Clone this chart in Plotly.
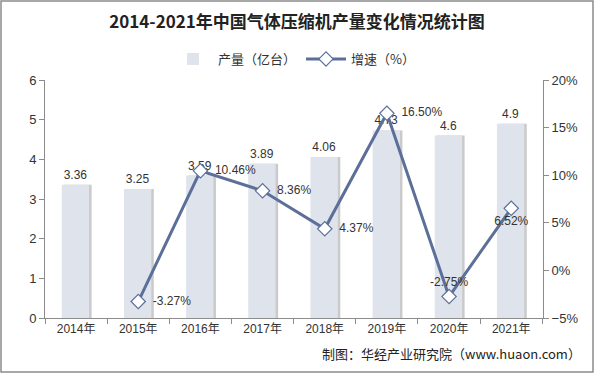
import plotly.graph_objects as go

years = ["2014年", "2015年", "2016年", "2017年", "2018年", "2019年", "2020年", "2021年"]
output = [3.36, 3.25, 3.59, 3.89, 4.06, 4.73, 4.6, 4.9]
growth_years = ["2015年", "2016年", "2017年", "2018年", "2019年", "2020年", "2021年"]
growth = [-3.27, 10.46, 8.36, 4.37, 16.50, -2.75, 6.52]
growth_labels = ["  -3.27%", "  10.46%", "  8.36%", "  4.37%", "  16.50%", "-2.75%", "6.52%"]
growth_pos = ["middle right", "middle right", "middle right", "middle right",
              "middle right", "top center", "bottom center"]

BAR = "#dfe3ec"
LINE = "#5b6f99"
FONT = "Liberation Sans, Arial, Noto Sans CJK SC, sans-serif"
CJK = "Noto Sans CJK SC, sans-serif"

fig = go.Figure()
fig.add_trace(go.Bar(x=years, y=output, width=0.44, offset=-0.19,
                     marker=dict(color="rgba(150,150,150,0.5)", line=dict(width=0)),
                     showlegend=False, hoverinfo="skip"))
fig.add_trace(go.Bar(x=years, y=output, name="产量（亿台）", width=0.44, offset=-0.23,
                     marker=dict(color=BAR, line=dict(width=0)),
                     text=[str(v) for v in output], textposition="outside",
                     textfont=dict(size=12, color="#333333", family=FONT),
                     cliponaxis=False))
fig.add_trace(go.Scatter(x=growth_years, y=growth, name="增速（%）", yaxis="y2",
                         mode="lines+markers+text",
                         line=dict(color=LINE, width=3),
                         marker=dict(symbol="diamond", size=11, color="white",
                                     line=dict(color=LINE, width=1.2)),
                         text=growth_labels, textposition=growth_pos,
                         textfont=dict(size=12, color="#333333", family=FONT),
                         cliponaxis=False))

fig.update_layout(
    width=594, height=373,
    margin=dict(l=45, r=51, t=80, b=55, autoexpand=False),
    paper_bgcolor="white", plot_bgcolor="white",
    barmode="overlay",
    font=dict(family=FONT, size=12, color="#333333"),
    title=dict(text="<b>2014-2021年中国气体压缩机产量变化情况统计图</b>",
               x=0.5, xanchor="center", y=1 - 22/373, yanchor="middle",
               font=dict(size=17, color="#222222", family=CJK)),
    legend=dict(orientation="h", x=0.5, xanchor="center", y=1 + 21/238,
                yanchor="middle", font=dict(size=13, color="#333333", family=CJK),
                bgcolor="rgba(0,0,0,0)", traceorder="normal", itemwidth=40),
    xaxis=dict(type="category", showline=True, linecolor="#8c8c8c", linewidth=1,
               ticks="outside", tickson="boundaries", ticklen=5, tickcolor="#8c8c8c",
               showgrid=False, tickfont=dict(size=12, color="#333333")),
    yaxis=dict(range=[0, 6], dtick=1, showline=True, linecolor="#8c8c8c",
               ticks="outside", ticklen=5, tickcolor="#8c8c8c", showgrid=False,
               zeroline=False, tickfont=dict(size=13, color="#333333")),
    yaxis2=dict(range=[-5, 20], dtick=5, overlaying="y", side="right",
                ticksuffix="%", showline=True, linecolor="#8c8c8c", ticks="outside",
                ticklen=5, tickcolor="#8c8c8c", showgrid=False, zeroline=False,
                tickfont=dict(size=13, color="#333333")),
    shapes=[dict(type="rect", xref="paper", yref="paper", x0=-44/498, x1=1+50/498,
                 y0=-54/238, y1=1+79/238, line=dict(color="#8c8c8c", width=1.5))],
    annotations=[
        dict(text="制图：华经产业研究院（www.huaon.com）", xref="paper", yref="paper",
             x=1+40/498, y=-35/238, xanchor="right", yanchor="middle", showarrow=False,
             font=dict(size=13, color="#222222", family=CJK)),
    ],
)

fig.write_html("out.html", config={"displayModeBar": False},
               post_script="document.body.style.margin='0';document.body.style.overflow='hidden';")
